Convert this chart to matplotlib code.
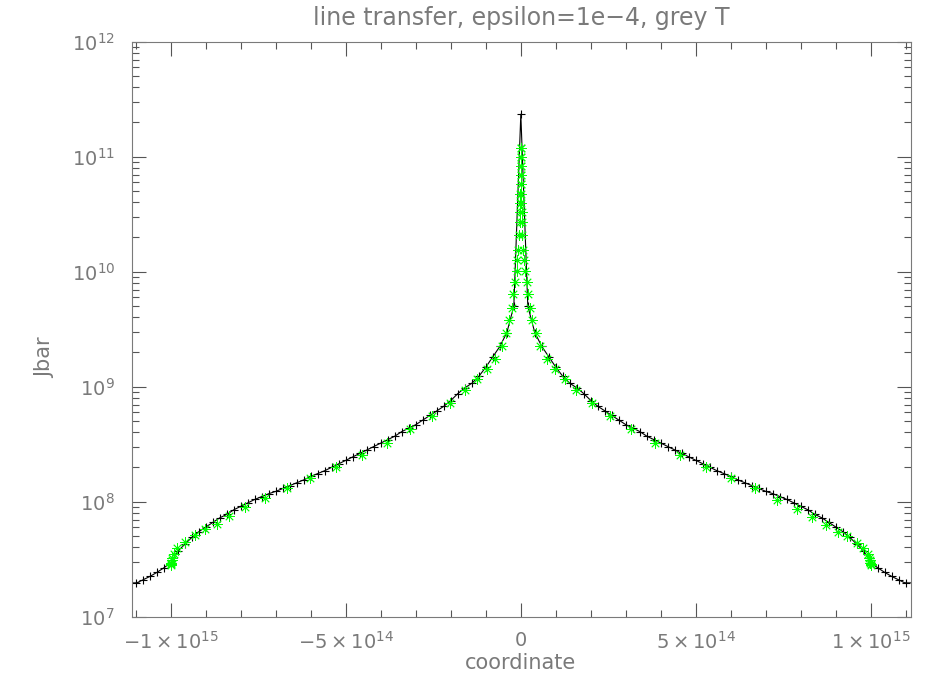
import numpy as np
import matplotlib
matplotlib.use("Agg")
import matplotlib.pyplot as plt
from matplotlib.ticker import FixedLocator, MultipleLocator, LogLocator, NullFormatter

# black curve: coordinate in units of 1e13, log10(Jbar)
coord_black = [
    -110, -108, -106, -104, -102, -100, -98, -96, -94, -92, -90, -88, -86, -84,
    -82, -80, -78, -76, -74, -72, -70, -68, -66, -64, -62, -60, -58, -56, -54,
    -52, -50, -48, -46, -44, -42, -40, -38, -36, -34, -32, -30, -28, -26, -24,
    -22, -20, -18, -16, -14, -12, -10, -8, -6, -4, -2, 0,
    2, 4, 6, 8, 10, 12, 14, 16, 18, 20, 22, 24, 26, 28, 30, 32, 34, 36, 38, 40,
    42, 44, 46, 48, 50, 52, 54, 56, 58, 60, 62, 64, 66, 68, 70, 72, 74, 76, 78,
    80, 82, 84, 86, 88, 90, 92, 94, 96, 98, 100, 102, 104, 106, 108, 110,
]
log_jbar_black = [
    7.29, 7.32, 7.35, 7.385, 7.425, 7.47, 7.57, 7.63, 7.69, 7.74, 7.78, 7.82,
    7.86, 7.89, 7.93, 7.96, 7.99, 8.02, 8.045, 8.07, 8.09, 8.115, 8.14, 8.165,
    8.19, 8.22, 8.245, 8.27, 8.30, 8.33, 8.36, 8.39, 8.42, 8.45, 8.48, 8.51,
    8.54, 8.57, 8.61, 8.64, 8.67, 8.71, 8.75, 8.79, 8.83, 8.88, 8.94, 8.99,
    9.03, 9.09, 9.17, 9.26, 9.35, 9.47, 9.70,
    11.37,
    9.70, 9.47, 9.35, 9.26, 9.17, 9.09, 9.03, 8.99, 8.94, 8.88, 8.83, 8.79,
    8.75, 8.71, 8.67, 8.64, 8.61, 8.57, 8.54, 8.51, 8.48, 8.45, 8.42, 8.39,
    8.36, 8.33, 8.30, 8.27, 8.245, 8.22, 8.19, 8.165, 8.14, 8.115, 8.09, 8.07,
    8.045, 8.02, 7.99, 7.96, 7.93, 7.89, 7.86, 7.82, 7.78, 7.74, 7.69, 7.63,
    7.57, 7.47, 7.425, 7.385, 7.35, 7.32, 7.29,
]

# green points: coordinate in units of 1e15, log10(Jbar)
coord_green_left = [
    -1.0, -0.9995, -0.999, -0.998, -0.996, -0.992, -0.983, -0.959, -0.930,
    -0.902, -0.869, -0.835, -0.788, -0.731, -0.669, -0.602, -0.528, -0.454,
    -0.383, -0.316, -0.254, -0.202, -0.159, -0.126, -0.097, -0.074, -0.054,
    -0.043, -0.033, -0.026, -0.021, -0.017, -0.012, -0.0095, -0.007, -0.0045,
    -0.003, -0.002, -0.0014, -0.001, -0.0007, -0.0005, -0.0003, -0.0002, -0.0001,
]
log_jbar_green_left = [
    7.45, 7.46, 7.47, 7.49, 7.51, 7.545, 7.595, 7.652, 7.71, 7.76, 7.81, 7.878,
    7.95, 8.03, 8.117, 8.209, 8.304, 8.406, 8.513, 8.63, 8.748, 8.861, 8.975,
    9.07, 9.15, 9.24, 9.35, 9.467, 9.58, 9.685, 9.81, 9.91, 10.01, 10.1,
    10.19, 10.32, 10.43, 10.52, 10.6, 10.68, 10.76, 10.84, 10.92, 11.0, 11.08,
]
coord_green_right = [
    0.0001, 0.0002, 0.0003, 0.0005, 0.0007, 0.001, 0.0014, 0.002, 0.003,
    0.0045, 0.007, 0.0095, 0.012, 0.017, 0.021, 0.026, 0.033, 0.043, 0.054,
    0.074, 0.097, 0.126, 0.159, 0.202, 0.254, 0.316, 0.383, 0.454, 0.528,
    0.602, 0.670, 0.731, 0.789, 0.831, 0.872, 0.905, 0.931, 0.960, 0.979,
    0.992, 0.996, 0.998, 0.999, 0.9995, 1.0,
]
log_jbar_green_right = [
    11.08, 11.0, 10.92, 10.84, 10.76, 10.68, 10.6, 10.52, 10.43, 10.32, 10.19,
    10.1, 10.01, 9.91, 9.81, 9.685, 9.58, 9.467, 9.35, 9.24, 9.15, 9.07,
    8.975, 8.861, 8.748, 8.63, 8.513, 8.406, 8.304, 8.209, 8.117, 8.015, 7.934,
    7.87, 7.797, 7.74, 7.70, 7.64, 7.595, 7.545, 7.51, 7.49, 7.47, 7.46, 7.45,
]

x_ticks = [-1e15, -5e14, 0, 5e14, 1e15]
x_tick_labels = [r"$-1\times10^{15}$", r"$-5\times10^{14}$", "0",
                 r"$5\times10^{14}$", r"$1\times10^{15}$"]
y_ticks = [1e7, 1e8, 1e9, 1e10, 1e11, 1e12]
y_tick_labels = [r"$10^{7}$", r"$10^{8}$", r"$10^{9}$", r"$10^{10}$",
                 r"$10^{11}$", r"$10^{12}$"]

grey = "#7a7a7a"
plt.rcParams["mathtext.fontset"] = "dejavusans"

fig = plt.figure(figsize=(9.5, 7), dpi=100)
ax = fig.add_axes([0.1386, 0.119, 0.82, 0.8214])

xb = np.array(coord_black) * 1e13
yb = 10.0 ** np.array(log_jbar_black)
ax.plot(xb, yb, color="black", lw=0.8, marker="+", ms=6, mew=0.8)

xg = np.array(coord_green_left + coord_green_right) * 1e15
yg = 10.0 ** np.array(log_jbar_green_left + log_jbar_green_right)
ax.plot(xg, yg, ls="none", marker=(8, 2, 0), ms=7.5, mew=0.6, color="#00ff00")

ax.set_yscale("log")
ax.set_xlim(-1.112e15, 1.114e15)
ax.set_ylim(1e7, 1e12)

ax.xaxis.set_major_locator(FixedLocator(x_ticks))
ax.set_xticklabels(x_tick_labels)
ax.xaxis.set_minor_locator(MultipleLocator(1e14))
ax.yaxis.set_major_locator(FixedLocator(y_ticks))
ax.set_yticklabels(y_tick_labels)
ax.yaxis.set_minor_locator(LogLocator(base=10, subs=np.arange(2, 10)))
ax.yaxis.set_minor_formatter(NullFormatter())

ax.tick_params(which="both", direction="in", top=True, right=True,
               color="#555555", labelcolor=grey, labelsize=14)
ax.tick_params(which="major", length=10, width=0.8)
ax.tick_params(which="minor", length=5, width=0.8)
ax.tick_params(axis="x", pad=10)
ax.tick_params(axis="y", pad=12)
for sp in ax.spines.values():
    sp.set_color(grey)
    sp.set_linewidth(0.8)

ax.set_title("line transfer, epsilon=1e\u22124, grey T", color=grey,
             fontsize=17, pad=12)
ax.set_xlabel("coordinate", color=grey, fontsize=15)
ax.set_ylabel("Jbar", color=grey, fontsize=15)
ax.xaxis.set_label_coords(0.4985, -0.063)
ax.yaxis.set_label_coords(-0.098, 0.45)

fig.savefig("out.png", dpi=100)
